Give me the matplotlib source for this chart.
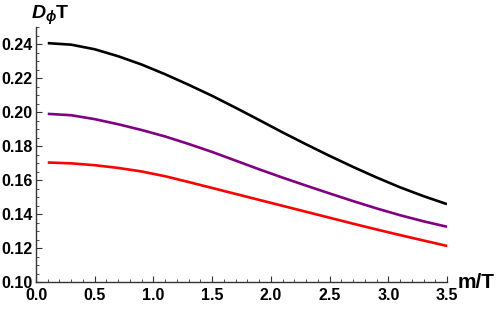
import numpy as np
import matplotlib
matplotlib.use("Agg")
import matplotlib.pyplot as plt
from matplotlib.ticker import MultipleLocator

# dati
m_over_T = [0.1, 0.3, 0.5, 0.7, 0.9, 1.1, 1.3, 1.5, 1.7, 1.9,
            2.1, 2.3, 2.5, 2.7, 2.9, 3.1, 3.3, 3.5]
d_black = [0.2405, 0.2396, 0.2369, 0.2328, 0.2279, 0.2222, 0.2160, 0.2095, 0.2025, 0.1953,
           0.1880, 0.1810, 0.1742, 0.1677, 0.1615, 0.1557, 0.1505, 0.1458]
d_purple = [0.1989, 0.1981, 0.1958, 0.1928, 0.1894, 0.1856, 0.1812, 0.1765, 0.1714, 0.1663,
            0.1614, 0.1567, 0.1521, 0.1476, 0.1433, 0.1393, 0.1357, 0.1325]
d_red = [0.1703, 0.1698, 0.1687, 0.1671, 0.1650, 0.1622, 0.1588, 0.1553, 0.1518, 0.1483,
         0.1448, 0.1413, 0.1378, 0.1343, 0.1309, 0.1276, 0.1244, 0.1212]

plt.rcParams['font.family'] = ['Liberation Sans', 'DejaVu Sans']
plt.rcParams['mathtext.fontset'] = 'custom'
plt.rcParams['mathtext.rm'] = 'Liberation Sans:bold'
plt.rcParams['mathtext.it'] = 'Liberation Sans:italic:bold'

fig = plt.figure(figsize=(4.98, 3.10), dpi=100)
ax = fig.add_axes([0.0723, 0.0903, 0.8253, 0.8226])

for y, c in [(d_black, 'black'), (d_purple, '#800080'), (d_red, '#ff0000')]:
    ax.plot(m_over_T, y, color=c, lw=1.9, solid_joinstyle='round', solid_capstyle='butt')

ax.set_xlim(0, 3.5)
ax.set_ylim(0.10, 0.25)

ax.spines['top'].set_visible(False)
ax.spines['right'].set_visible(False)
for s in ['left', 'bottom']:
    ax.spines[s].set_color('#333333')
    ax.spines[s].set_linewidth(1.0)

ax.xaxis.set_major_locator(MultipleLocator(0.5))
ax.xaxis.set_minor_locator(MultipleLocator(0.1))
ax.yaxis.set_major_locator(MultipleLocator(0.02))
ax.yaxis.set_minor_locator(MultipleLocator(0.005))
ax.xaxis.set_major_formatter(plt.FormatStrFormatter('%.1f'))
ax.yaxis.set_major_formatter(plt.FormatStrFormatter('%.2f'))

ax.tick_params(which='major', direction='in', length=4.5, width=0.8, color='#333333',
               labelsize=11.5)
ax.tick_params(axis='x', which='major', pad=4)
ax.tick_params(axis='y', which='major', pad=2.5)
ax.tick_params(which='minor', direction='in', length=2.5, width=0.6, color='#333333')
for lab in ax.get_xticklabels() + ax.get_yticklabels():
    lab.set_fontweight('bold')

# etichette assi
fig.text(0.062, 0.95, r'$D_{\phi}$T', fontsize=14, fontweight='bold', ha='left', va='center')
fig.text(0.918, 0.088, 'm/T', fontsize=15, fontweight='bold', ha='left', va='center')

fig.savefig('out.png', dpi=100)
